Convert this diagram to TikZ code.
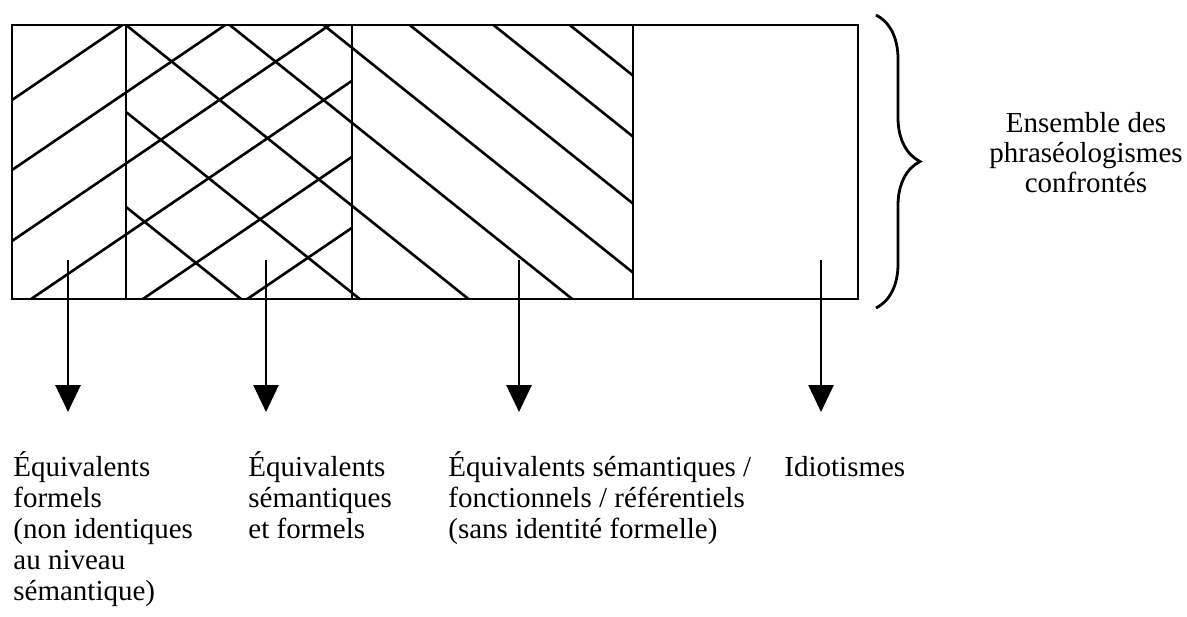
\documentclass[tikz,border=0pt]{standalone}
\usepackage{fontspec}
\setmainfont{Liberation Serif}
\usetikzlibrary{arrows.meta,decorations.pathreplacing}

\begin{document}
\begin{tikzpicture}[x=0.5pt, y=-0.5pt, line width=1.4pt,
    hatch/.style={line width=1.3pt},
    lbl/.style={inner sep=0pt, anchor=base west, font=\fontsize{14.5}{15.5}\selectfont},
    down/.style={-{Triangle[width=12.5pt,length=13.5pt]}}]
  \useasboundingbox (0,0) rectangle (1187,616);
  % hatching
  \begin{scope}
    \clip (12,25) rectangle (352,299);
    \foreach \e in {100,170,241,312,388,459}
      \draw[hatch] (12,\e) -- (352,\e-231.2);
  \end{scope}
  \begin{scope}
    \clip (126,25) rectangle (633,299);
    \foreach \c in {207,112,25,-58,-133,-202,-269,-330}
      \draw[hatch] (126,\c) -- (633,\c+405.6);
  \end{scope}
  % frame
  \draw (12,25) rectangle (858,299);
  \foreach \x in {126,352,633}
    \draw (\x,25) -- (\x,299);
  % brace
  \coordinate (btop) at (876,15);
  \coordinate (bbot) at (876,308);
  \draw[decorate, decoration={brace, amplitude=22pt}] (btop) -- (bbot);
  \node[lbl, anchor=base, font=\fontsize{14.5}{15}\selectfont] (ensemble) at (1086,132)
    {\begin{tabular}[t]{@{}c@{}}Ensemble des\\phraséologismes\\confrontés\end{tabular}};
  % arrows
  \foreach \x/\n in {68/a,266/b,519/c,821/d}{
    \coordinate (top\n) at (\x,260);
    \coordinate (tip\n) at (\x,412);
    \draw[down] (top\n) -- (tip\n);
  }
  % labels
  \node[lbl] (formels) at (12,476)
    {\begin{tabular}[t]{@{}l@{}}Équivalents\\formels\\(non identiques\\au niveau\\sémantique)\end{tabular}};
  \node[lbl] (semform) at (247,476)
    {\begin{tabular}[t]{@{}l@{}}Équivalents\\sémantiques\\et formels\end{tabular}};
  \node[lbl] (semfonc) at (447,476)
    {\begin{tabular}[t]{@{}l@{}}Équivalents sémantiques /\\fonctionnels / référentiels\\(sans identité formelle)\end{tabular}};
  \node[lbl] (idiot) at (783,476) {Idiotismes};
\end{tikzpicture}
\end{document}
